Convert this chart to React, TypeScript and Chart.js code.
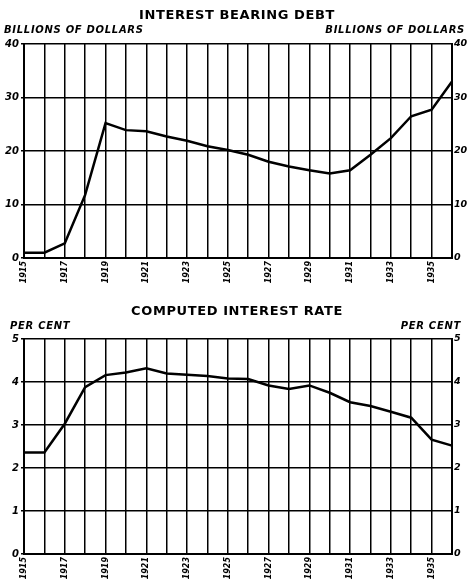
import React, { useEffect, useRef } from "react";
import { Chart, registerables } from "chart.js";

Chart.register(...registerables);

const years = ["1915","1916","1917","1918","1919","1920","1921","1922","1923","1924","1925","1926","1927","1928","1929","1930","1931","1932","1933","1934","1935","1936"];
const debtBillions = [1.0, 1.0, 2.75, 11.8, 25.2, 23.9, 23.7, 22.7, 21.9, 20.9, 20.2, 19.3, 18.0, 17.1, 16.4, 15.8, 16.4, 19.3, 22.4, 26.5, 27.7, 33.0];
const interestRate = [2.36, 2.36, 3.03, 3.88, 4.16, 4.22, 4.32, 4.2, 4.17, 4.14, 4.08, 4.07, 3.92, 3.84, 3.92, 3.75, 3.53, 3.44, 3.31, 3.17, 2.66, 2.52];
const labeledYears = ["1915","1917","1919","1921","1923","1925","1927","1929","1931","1933","1935"];

const debtTicks = { min: 0, max: 40, step: 10 };
const rateTicks = { min: 0, max: 5, step: 1 };

const FONT = "'DejaVu Sans', 'Liberation Sans', sans-serif";

type Cfg = {
  title: string;
  unit: string;
  data: number[];
  ticks: { min: number; max: number; step: number };
  height: number;
  padTop: number;
  xHeight: number;
  titleY: number;
  unitY: number;
  unitLeftX: number;
  unitRightX: number;
};

function makeChart(canvas: HTMLCanvasElement, c: Cfg) {
  const textPlugin = {
    id: "texts",
    afterDraw(chart: any) {
      const ctx = chart.ctx as CanvasRenderingContext2D;
      ctx.save();
      ctx.fillStyle = "#000";
      ctx.textBaseline = "middle";
      (ctx as any).letterSpacing = "0.6px";
      ctx.font = `bold 13px ${FONT}`;
      ctx.textAlign = "center";
      ctx.fillText(c.title, 237, c.titleY);
      (ctx as any).letterSpacing = "0.7px";
      ctx.font = `italic bold 10px ${FONT}`;
      ctx.textAlign = "left";
      ctx.fillText(c.unit, c.unitLeftX, c.unitY);
      ctx.textAlign = "right";
      ctx.fillText(c.unit, c.unitRightX, c.unitY);
      ctx.restore();
    },
  };
  const yTickFont = { family: FONT, size: 10, weight: "bold" as const, style: "italic" as const };
  return new Chart(canvas, {
    type: "line",
    data: {
      labels: years,
      datasets: [
        {
          data: c.data,
          borderColor: "#000",
          borderWidth: 2.5,
          pointRadius: 0,
          tension: 0,
          fill: false,
        },
      ],
    },
    options: {
      animation: false,
      responsive: false,
      devicePixelRatio: 1,
      layout: { padding: { top: c.padTop, left: 0, right: 0, bottom: 0 } },
      plugins: { legend: { display: false }, tooltip: { enabled: false }, title: { display: false } },
      scales: {
        x: {
          type: "category",
          offset: false,
          grid: { color: "#000", lineWidth: 1.5, drawTicks: false },
          border: { color: "#000", width: 2 },
          ticks: {
            autoSkip: false,
            minRotation: 90,
            maxRotation: 90,
            padding: 3,
            color: "#000",
            font: { family: FONT, size: 8, weight: "bold", style: "italic" },
            callback: (_v: any, i: number) => (labeledYears.includes(years[i]) ? years[i] : ""),
          },
          afterFit: (s: any) => {
            s.height = c.xHeight;
          },
        },
        y: {
          position: "left",
          min: c.ticks.min,
          max: c.ticks.max,
          grid: { color: "#000", lineWidth: 1.5, tickLength: 3 },
          border: { color: "#000", width: 2 },
          ticks: { stepSize: c.ticks.step, padding: 2, color: "#000", font: yTickFont },
          afterFit: (s: any) => {
            s.width = 24;
          },
        },
        y2: {
          position: "right",
          min: c.ticks.min,
          max: c.ticks.max,
          grid: { display: false, drawOnChartArea: false, drawTicks: false, tickLength: 0 },
          border: { color: "#000", width: 2 },
          ticks: { stepSize: c.ticks.step, padding: 2, color: "#000", font: { ...yTickFont, size: 9.5 } },
          afterFit: (s: any) => {
            s.width = 15;
          },
        },
      },
    },
    plugins: [textPlugin],
  } as any);
}

export default function App() {
  const ref1 = useRef<HTMLCanvasElement>(null);
  const ref2 = useRef<HTMLCanvasElement>(null);
  useEffect(() => {
    const c1 = makeChart(ref1.current!, {
      title: "INTEREST BEARING DEBT",
      unit: "BILLIONS OF DOLLARS",
      data: debtBillions,
      ticks: debtTicks,
      height: 290,
      padTop: 44,
      xHeight: 32,
      titleY: 16,
      unitY: 30,
      unitLeftX: 4,
      unitRightX: 465,
    });
    const c2 = makeChart(ref2.current!, {
      title: "COMPUTED INTEREST RATE",
      unit: "PER CENT",
      data: interestRate,
      ticks: rateTicks,
      height: 292,
      padTop: 49,
      xHeight: 28,
      titleY: 22,
      unitY: 36,
      unitLeftX: 10,
      unitRightX: 461,
    });
    return () => {
      c1.destroy();
      c2.destroy();
    };
  }, []);
  return (
    <div style={{ position: "absolute", left: 0, top: 0, width: 467, height: 582, background: "#fff" }}>
      <canvas ref={ref1} width={467} height={290} style={{ position: "absolute", left: 0, top: 0 }} />
      <canvas ref={ref2} width={467} height={292} style={{ position: "absolute", left: 0, top: 290 }} />
    </div>
  );
}
